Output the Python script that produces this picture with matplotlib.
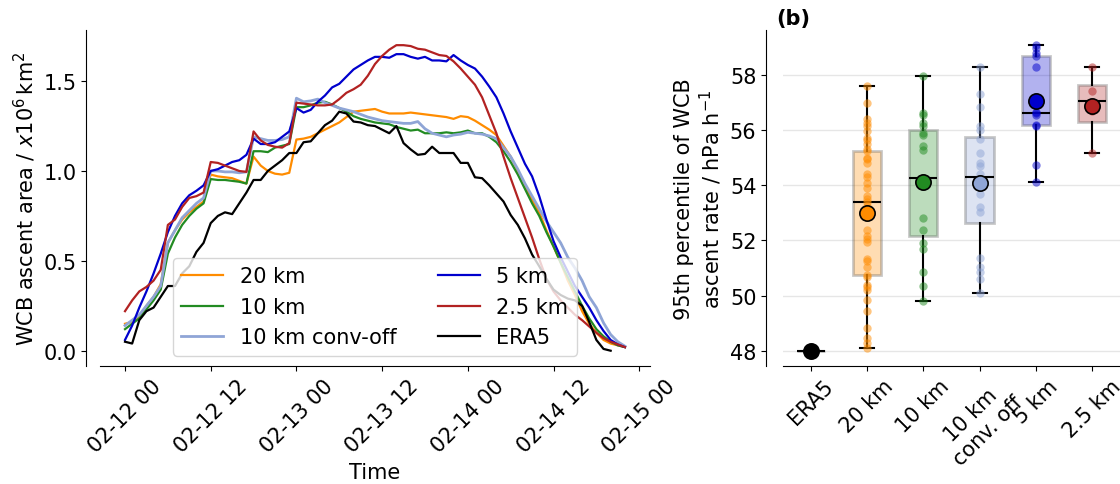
import numpy as np
import pandas as pd
import matplotlib
matplotlib.use("Agg")
import matplotlib.pyplot as plt
import matplotlib.dates as mdates

plt.rcParams['font.size'] = 15

# ---- panel (a): WCB ascent area, hourly from 02-12 00 ----
area_20km = [0.15, 0.16, 0.19, 0.25, 0.30, 0.37, 0.60, 0.67, 0.73, 0.77, 0.80, 0.83,
             0.98, 0.97, 0.965, 0.96, 0.945, 0.93, 1.08, 1.03, 1.00, 0.985, 0.98, 0.99,
             1.175, 1.18, 1.19, 1.21, 1.23, 1.25, 1.27, 1.30, 1.33, 1.335, 1.34, 1.345,
             1.33, 1.32, 1.32, 1.32, 1.325, 1.32, 1.315, 1.31, 1.305, 1.30, 1.29, 1.305,
             1.30, 1.28, 1.255, 1.23, 1.20, 1.14, 1.08, 1.00, 0.92, 0.84, 0.77, 0.67,
             0.58, 0.49, 0.39, 0.31, 0.22, 0.15, 0.10, 0.06, 0.04, 0.03, 0.02]
area_10km = [0.12, 0.15, 0.18, 0.23, 0.28, 0.34, 0.54, 0.63, 0.70, 0.75, 0.79, 0.82,
             0.955, 0.95, 0.95, 0.945, 0.94, 0.93, 1.11, 1.11, 1.105, 1.13, 1.14, 1.15,
             1.355, 1.355, 1.365, 1.38, 1.385, 1.37, 1.35, 1.33, 1.305, 1.29, 1.28, 1.27,
             1.265, 1.26, 1.245, 1.235, 1.225, 1.23, 1.21, 1.21, 1.21, 1.215, 1.21, 1.215,
             1.225, 1.21, 1.21, 1.19, 1.16, 1.11, 1.05, 0.98, 0.90, 0.82, 0.75, 0.66,
             0.58, 0.49, 0.41, 0.33, 0.25, 0.18, 0.12, 0.08, 0.05, 0.03, 0.02]
area_10km_off = [0.14, 0.17, 0.20, 0.25, 0.30, 0.36, 0.60, 0.67, 0.74, 0.78, 0.82, 0.85,
                 1.00, 1.00, 0.995, 0.995, 0.99, 0.995, 1.19, 1.18, 1.17, 1.17, 1.175, 1.19,
                 1.405, 1.385, 1.39, 1.40, 1.38, 1.365, 1.35, 1.34, 1.33, 1.315, 1.30, 1.29,
                 1.28, 1.275, 1.27, 1.265, 1.265, 1.275, 1.235, 1.21, 1.20, 1.19, 1.20, 1.205,
                 1.215, 1.21, 1.205, 1.195, 1.18, 1.13, 1.08, 1.01, 0.93, 0.86, 0.79, 0.72,
                 0.66, 0.60, 0.52, 0.46, 0.39, 0.30, 0.24, 0.155, 0.09, 0.05, 0.025]
area_5km = [0.06, 0.14, 0.24, 0.33, 0.43, 0.54, 0.66, 0.75, 0.82, 0.865, 0.89, 0.92,
            1.00, 1.01, 1.03, 1.05, 1.06, 1.09, 1.18, 1.15, 1.15, 1.16, 1.19, 1.22,
            1.35, 1.325, 1.34, 1.385, 1.42, 1.465, 1.485, 1.525, 1.565, 1.59, 1.615, 1.635,
            1.635, 1.63, 1.65, 1.65, 1.635, 1.625, 1.635, 1.615, 1.615, 1.61, 1.645, 1.615,
            1.59, 1.57, 1.525, 1.47, 1.41, 1.32, 1.22, 1.13, 1.04, 0.97, 0.86, 0.73,
            0.61, 0.52, 0.44, 0.36, 0.30, 0.24, 0.17, 0.11, 0.06, 0.035, 0.02]
area_2p5km = [0.22, 0.28, 0.33, 0.355, 0.39, 0.45, 0.70, 0.73, 0.80, 0.85, 0.86, 0.88,
              1.05, 1.045, 1.03, 1.015, 1.00, 0.995, 1.22, 1.17, 1.145, 1.135, 1.13, 1.155,
              1.38, 1.375, 1.37, 1.365, 1.365, 1.37, 1.40, 1.435, 1.455, 1.48, 1.53, 1.595,
              1.64, 1.675, 1.70, 1.70, 1.695, 1.68, 1.675, 1.66, 1.645, 1.64, 1.61, 1.57,
              1.525, 1.48, 1.41, 1.31, 1.21, 1.08, 0.96, 0.85, 0.74, 0.63, 0.51, 0.40,
              0.33, 0.28, 0.24, 0.20, 0.17, 0.135, 0.10, 0.07, 0.05, 0.035, 0.02]
area_era5 = [0.05, 0.04, 0.17, 0.22, 0.24, 0.30, 0.36, 0.36, 0.43, 0.47, 0.55, 0.60,
             0.71, 0.75, 0.77, 0.76, 0.82, 0.88, 0.95, 0.95, 1.00, 1.03, 1.06, 1.10,
             1.10, 1.16, 1.165, 1.21, 1.255, 1.28, 1.33, 1.32, 1.275, 1.27, 1.255, 1.25,
             1.23, 1.21, 1.25, 1.155, 1.12, 1.09, 1.095, 1.135, 1.10, 1.10, 1.10, 1.045,
             1.045, 0.965, 0.96, 0.92, 0.875, 0.83, 0.755, 0.70, 0.625, 0.535, 0.47, 0.40,
             0.34, 0.31, 0.29, 0.28, 0.25, 0.16, 0.06, 0.01, 0.0]

# ---- panel (b): 95th percentile of ascent rate ----
cats = ['ERA5', '20 km', '10 km', '10 km\nconv. off', '5 km', '2.5 km']
p95_era5 = [48.0]
p95_20km = [57.6, 56.98, 56.40, 56.26, 56.14, 55.96, 55.72, 55.63, 55.5, 55.30, 55.24,
            55.0, 54.94, 54.8, 54.40, 54.31, 54.10, 53.9, 53.62, 53.50, 53.40, 53.26,
            53.14, 52.39, 52.17, 52.05, 51.93, 51.33, 51.24, 51.03, 50.73, 50.67, 50.37,
            50.31, 50.19, 49.83, 49.43, 48.81, 48.45, 48.27, 48.09]
p95_10km = [57.98, 56.62, 56.56, 56.26, 56.14, 55.90, 55.84, 55.42, 55.27, 54.28, 54.24,
            54.2, 52.80, 52.38, 51.91, 51.69, 50.85, 50.34, 49.81]
p95_10km_off = [58.30, 57.32, 56.82, 56.16, 56.02, 55.66, 55.18, 54.82, 54.70, 54.40,
                54.22, 53.98, 53.70, 53.20, 53.04, 51.36, 51.03, 50.85, 50.61, 50.11]
p95_5km = [59.08, 58.96, 58.78, 58.68, 58.30, 56.65, 56.62, 56.55, 56.2, 56.14, 54.74, 54.13]
p95_2p5km = [58.28, 57.42, 56.68, 55.18]

colors = ['black', 'darkorange', 'forestgreen', '#8fa5d6', 'mediumblue', 'firebrick']

fig = plt.figure(figsize=(11.2, 4.85), dpi=100)
ax1 = fig.add_axes([0.0893, 0.2433, 0.491, 0.693])
ax2 = fig.add_axes([0.699, 0.2433, 0.301, 0.693])

t = pd.date_range('2021-02-12 00:00', periods=len(area_20km), freq='h')
t_era = pd.date_range('2021-02-12 00:00', periods=len(area_era5), freq='h')

ax1.plot(t, area_20km, color=colors[1], lw=1.6, label='20 km')
ax1.plot(t, area_10km, color=colors[2], lw=1.6, label='10 km')
ax1.plot(t, area_10km_off, color=colors[3], lw=2, label='10 km conv-off')
ax1.plot(t, area_5km, color=colors[4], lw=1.6, label='5 km')
ax1.plot(t, area_2p5km, color=colors[5], lw=1.6, label='2.5 km')
ax1.plot(t_era, area_era5, color='black', lw=1.6, label='ERA5')

ax1.xaxis.set_major_locator(mdates.HourLocator(byhour=[0, 12]))
ax1.xaxis.set_major_formatter(mdates.DateFormatter('%m-%d %H'))
ax1.set_xlim(t[0] - pd.Timedelta(hours=3.5), t[-1] + pd.Timedelta(hours=3.5))
ax1.set_yticks([0.0, 0.5, 1.0, 1.5])
plt.setp(ax1.get_xticklabels(), rotation=45)
ax1.set_xlabel('Time')
ax1.set_ylabel('WCB ascent area / $x10^6\\,\\mathrm{km}^2$')
ax1.legend(loc='lower center', ncol=2, framealpha=0.8)
ax1.spines['top'].set_visible(False)
ax1.spines['right'].set_visible(False)
ax1.spines['left'].set_position(('outward', 10))

# boxplot panel
data = [p95_era5, p95_20km, p95_10km, p95_10km_off, p95_5km, p95_2p5km]
pos = np.arange(len(data))
bp = ax2.boxplot(data, positions=pos, widths=0.5, whis=(0, 100), patch_artist=True,
                 showfliers=False, zorder=2)
for patch, c in zip(bp['boxes'], colors):
    patch.set_facecolor(c)
    patch.set_alpha(0.3)
    patch.set_edgecolor('0.3')
    patch.set_linewidth(2)
for ln in bp['whiskers'] + bp['caps'] + bp['medians']:
    ln.set_color('black')
    ln.set_linewidth(1.5)
for i, (vals, c) in enumerate(zip(data, colors)):
    if i == 0:
        continue
    ax2.plot([pos[i]] * len(vals), vals, 'o', color=c, alpha=0.5, ms=6, mec='none', zorder=3)
for i, (vals, c) in enumerate(zip(data, colors)):
    ax2.plot(pos[i], np.mean(vals), 'o', color=c, mec='black', mew=1.2, ms=11, zorder=4)

ax2.set_xticks(pos)
ax2.set_xticklabels(cats, rotation=45)
ax2.set_xlim(-0.5, 5.5)
ax2.set_ylabel('95th percentile of WCB\nascent rate / hPa h$^{-1}$')
ax2.yaxis.grid(True, color='0.9', lw=1, zorder=0)
ax2.set_axisbelow(True)
ax2.spines['top'].set_visible(False)
ax2.spines['right'].set_visible(False)
ax2.spines['left'].set_position(('outward', 12))
ax2.text(-0.02, 1.005, '(b)', transform=ax2.transAxes, fontweight='bold', va='bottom')

fig.savefig('out.png', dpi=100)
